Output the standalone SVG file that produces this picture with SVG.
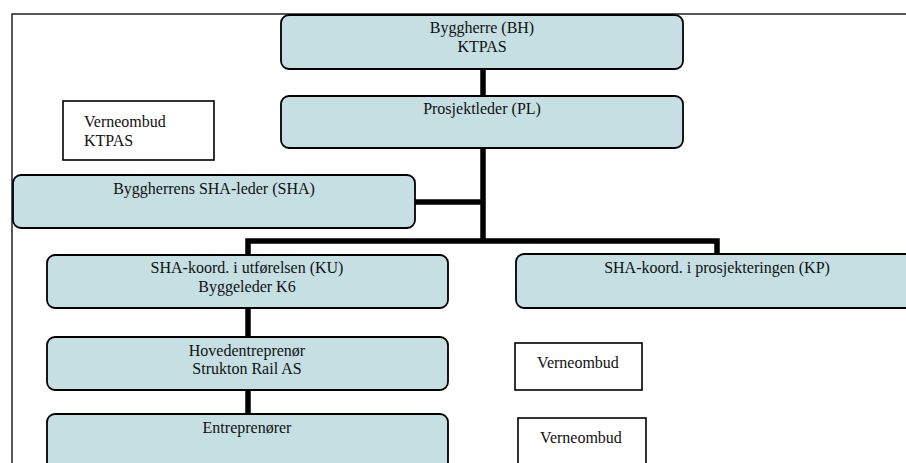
<svg xmlns="http://www.w3.org/2000/svg" width="906" height="463" viewBox="0 0 906 463">
<style>
.node{fill:#c5dfe3;stroke:#000;stroke-width:1.8}
.plain{fill:#fff;stroke:#000;stroke-width:1.6}
.frame{fill:none;stroke:#222;stroke-width:1.5}
.conn{fill:none;stroke:#000;stroke-width:5.5;stroke-linejoin:miter;stroke-linecap:butt}
text{font-family:"Liberation Serif","Times New Roman",serif;font-size:16px;fill:#111}
.c{text-anchor:middle}
</style>
<rect width="906" height="463" fill="#fff"/>
<path class="frame" d="M12,463 V14 H906"/>
<g id="connectors">
<path class="conn" d="M483,69 V96"/>
<path class="conn" d="M483,148 V241"/>
<path class="conn" d="M415,202 H483"/>
<path class="conn" d="M248,255 V241 H717 V254"/>
<path class="conn" d="M248,308 V337"/>
<path class="conn" d="M248,390 V414"/>
</g>
<g id="byggherre">
<rect class="node" x="281" y="15" width="402" height="54" rx="8"/>
<text class="c" x="482" y="33">Byggherre (BH)</text>
<text class="c" x="482" y="52">KTPAS</text>
</g>
<g id="prosjektleder">
<rect class="node" x="281" y="96" width="402" height="52" rx="8"/>
<text class="c" x="482" y="114">Prosjektleder (PL)</text>
</g>
<g id="verneombud-ktpas">
<rect class="plain" x="63" y="101" width="151" height="59"/>
<text x="84" y="127">Verneombud</text>
<text x="84" y="146">KTPAS</text>
</g>
<g id="sha-leder">
<rect class="node" x="13" y="175" width="402" height="53" rx="8"/>
<text class="c" x="214" y="194">Byggherrens SHA-leder (SHA)</text>
</g>
<g id="ku">
<rect class="node" x="47" y="255" width="401" height="53" rx="8"/>
<text class="c" x="247" y="273">SHA-koord. i utførelsen (KU)</text>
<text class="c" x="247" y="292">Byggeleder K6</text>
</g>
<g id="kp">
<rect class="node" x="516" y="254" width="402" height="54" rx="8"/>
<text class="c" x="717" y="273">SHA-koord. i prosjekteringen (KP)</text>
</g>
<g id="hovedentreprenor">
<rect class="node" x="47" y="337" width="401" height="53" rx="8"/>
<text class="c" x="247" y="356">Hovedentreprenør</text>
<text class="c" x="247" y="374">Strukton Rail AS</text>
</g>
<g id="verneombud-2">
<rect class="plain" x="515" y="343" width="127" height="47"/>
<text class="c" x="578" y="368">Verneombud</text>
</g>
<g id="entreprenorer">
<rect class="node" x="47" y="414" width="401" height="56" rx="8"/>
<text class="c" x="247" y="433">Entreprenører</text>
</g>
<g id="verneombud-3">
<rect class="plain" x="518" y="418" width="128" height="50"/>
<text class="c" x="581" y="443">Verneombud</text>
</g>
</svg>
